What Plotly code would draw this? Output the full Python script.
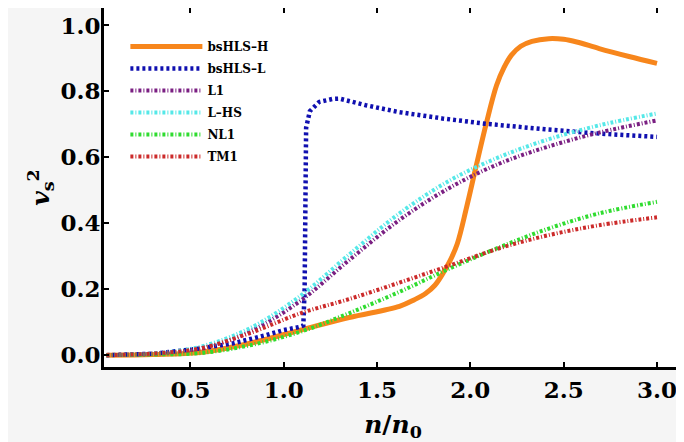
import plotly.graph_objects as go

# ---- data ----
x_H = [0.05, 0.30, 0.55, 0.82, 1.09, 1.35, 1.62, 1.70, 1.76, 1.81, 1.85, 1.89, 1.93, 1.98, 2.03, 2.085,
       2.14, 2.18, 2.22, 2.27, 2.33, 2.42, 2.50, 2.57, 2.69, 2.85, 3.00]
y_H = [0.000, 0.002, 0.008, 0.036, 0.076, 0.114, 0.148, 0.168, 0.187, 0.212, 0.245, 0.285, 0.338, 0.449, 0.571, 0.702,
       0.818, 0.872, 0.910, 0.937, 0.952, 0.960, 0.958, 0.950, 0.930, 0.906, 0.885]

x_L = [0.05, 0.30, 0.55, 0.73, 0.90, 1.00, 1.08, 1.105, 1.112, 1.115, 1.12, 1.14, 1.19, 1.26, 1.30, 1.44, 1.62, 1.85, 2.08, 2.40, 2.69, 3.00]
y_L = [0.000, 0.004, 0.020, 0.036, 0.060, 0.076, 0.085, 0.090, 0.200, 0.450, 0.690, 0.740, 0.768, 0.777, 0.778, 0.758, 0.737, 0.718, 0.702, 0.685, 0.672, 0.662]

x_std = [0.05, 0.30, 0.55, 0.82, 1.09, 1.35, 1.62, 1.89, 2.16, 2.42, 2.69, 3.00]
y_L1 = [0.000, 0.004, 0.020, 0.072, 0.165, 0.288, 0.410, 0.508, 0.582, 0.633, 0.675, 0.712]
y_LHS = [0.000, 0.005, 0.025, 0.082, 0.180, 0.305, 0.430, 0.530, 0.602, 0.655, 0.697, 0.733]
y_NL1 = [0.000, 0.002, 0.006, 0.030, 0.071, 0.127, 0.192, 0.263, 0.328, 0.384, 0.430, 0.465]
y_TM1 = [0.000, 0.005, 0.020, 0.067, 0.127, 0.170, 0.220, 0.272, 0.325, 0.364, 0.394, 0.418]

x_ticks = [0.5, 1.0, 1.5, 2.0, 2.5, 3.0]
y_ticks = [0.0, 0.2, 0.4, 0.6, 0.8, 1.0]

series = [
    ("bsHLS\u2013H", x_H, y_H, "#f7861c", 5, "solid", "spline"),
    ("bsHLS\u2013L", x_L, y_L, "#1010b0", 4.5, "3px,3px", "linear"),
    ("L1", x_std, y_L1, "#7a1f82", 4, "3px,2px,1px,2px", "spline"),
    ("L\u2013HS", x_std, y_LHS, "#55e8e8", 4, "3px,2px,1px,2px", "spline"),
    ("NL1", x_std, y_NL1, "#2fdc2f", 4, "3px,2px,1px,2px", "spline"),
    ("TM1", x_std, y_TM1, "#cc2a2a", 4, "3px,2px,1px,2px", "spline"),
]

fig = go.Figure()
for name, xs, ys, col, w, dash, shape in series:
    fig.add_trace(go.Scatter(
        x=xs, y=ys, mode="lines", name=name, legendgroup=name,
        line=dict(color=col, width=w, dash=dash, shape=shape,
                  smoothing=1.0 if shape == "spline" else None),
    ))

tick_font = dict(family="DejaVu Serif", size=23, color="black", weight="bold")
axis_common = dict(
    showline=True, linecolor="black", linewidth=3, mirror="ticks",
    ticks="inside", ticklen=5, tickwidth=2, tickcolor="black",
    showgrid=False, zeroline=False, tickfont=tick_font, tickformat=".1f",
    automargin=False,
)

# the page body has an 8px default margin, so the figure is sized 8px smaller
fig.update_layout(
    width=676, height=434,
    margin=dict(l=96, r=2, t=0, b=75),
    paper_bgcolor="#f5f5f5", plot_bgcolor="white",
    showlegend=True,
    legend=dict(
        x=0.037, y=0.933, xanchor="left", yanchor="top",
        bgcolor="rgba(0,0,0,0)", borderwidth=0,
        font=dict(family="DejaVu Serif", size=12, color="black", weight="bold"),
        itemwidth=72, tracegroupgap=3,
    ),
    xaxis=dict(range=[0.037, 3.134], tickvals=x_ticks, **axis_common,
               title=dict(text="<i>n</i>/<i>n</i><sub>0</sub>", standoff=14,
                          font=dict(family="DejaVu Serif", size=25, color="black", weight="bold"))),
    yaxis=dict(range=[-0.036, 1.053], tickvals=y_ticks, ticklabelstandoff=-4, **axis_common,
               title=dict(text="<i>v</i><sub>s</sub><sup>2</sup>", standoff=4,
                          font=dict(family="DejaVu Serif", size=25, color="black", weight="bold"))),
)

fig.write_html("out.html")
